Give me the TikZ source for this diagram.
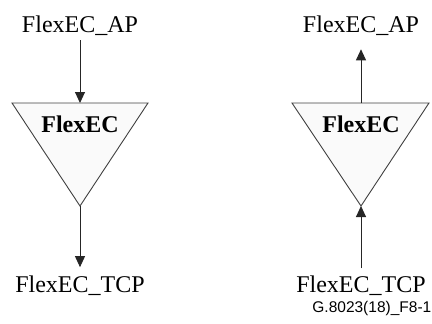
\documentclass[tikz,border=0pt]{standalone}
\usepackage{fontspec}
\setmainfont{Liberation Serif}
\newfontfamily\captionfont{Liberation Sans}
\usetikzlibrary{positioning,arrows.meta}

\begin{document}
\begin{tikzpicture}[x=1pt, y=-1pt,
  % Node Styles
  pointlabel/.style={inner sep=4pt, anchor=base, font=\fontsize{24}{28}\selectfont},
  funclabel/.style={inner sep=0pt, anchor=base, font=\fontsize{24}{28}\selectfont\bfseries},
  figlabel/.style={inner sep=0pt, anchor=base east, font=\captionfont\fontsize{15.5}{18}\selectfont},
  trianglebox/.style={draw=black!75, fill=gray!4, line width=0.9pt, line join=miter},
  % Arrow Styles
  solidarrow/.style={-{Triangle[length=11pt,width=10pt]}, line width=0.9pt, draw=black!85, fill=black},
]

\useasboundingbox (0,0) rectangle (432,324);

% Sink direction: FlexEC_AP down to FlexEC_TCP

\coordinate (Sink_top) at (80,103);
\coordinate (Sink_apex) at (80,206);
\draw[trianglebox] (12,103) -- (148,103) -- (Sink_apex) -- cycle;
\node[funclabel] (Sink_FlexEC) at (80,132) {FlexEC};
\node[pointlabel] (Sink_AP) at (80,33) {FlexEC\_AP};
\node[pointlabel] (Sink_TCP) at (80,292) {FlexEC\_TCP};

\draw[solidarrow] (Sink_AP) -- (Sink_top);
\draw[solidarrow, shorten >=4pt] (Sink_apex) -- (Sink_TCP);

% Source direction: FlexEC_TCP up to FlexEC_AP

\coordinate (Source_top) at (361,103);
\coordinate (Source_apex) at (361,206);
\draw[trianglebox] (292,103) -- (429,103) -- (Source_apex) -- cycle;
\node[funclabel] (Source_FlexEC) at (361,132) {FlexEC};
\node[pointlabel] (Source_AP) at (361,33) {FlexEC\_AP};
\node[pointlabel] (Source_TCP) at (361,292) {FlexEC\_TCP};

\draw[solidarrow, shorten >=9pt] (Source_top) -- (Source_AP);
\draw[solidarrow, shorten <=3pt] (Source_TCP) -- (Source_apex);

\node[figlabel] (Fig_ID) at (431.5,312) {G.8023(18)\_F8-1};

\end{tikzpicture}
\end{document}
